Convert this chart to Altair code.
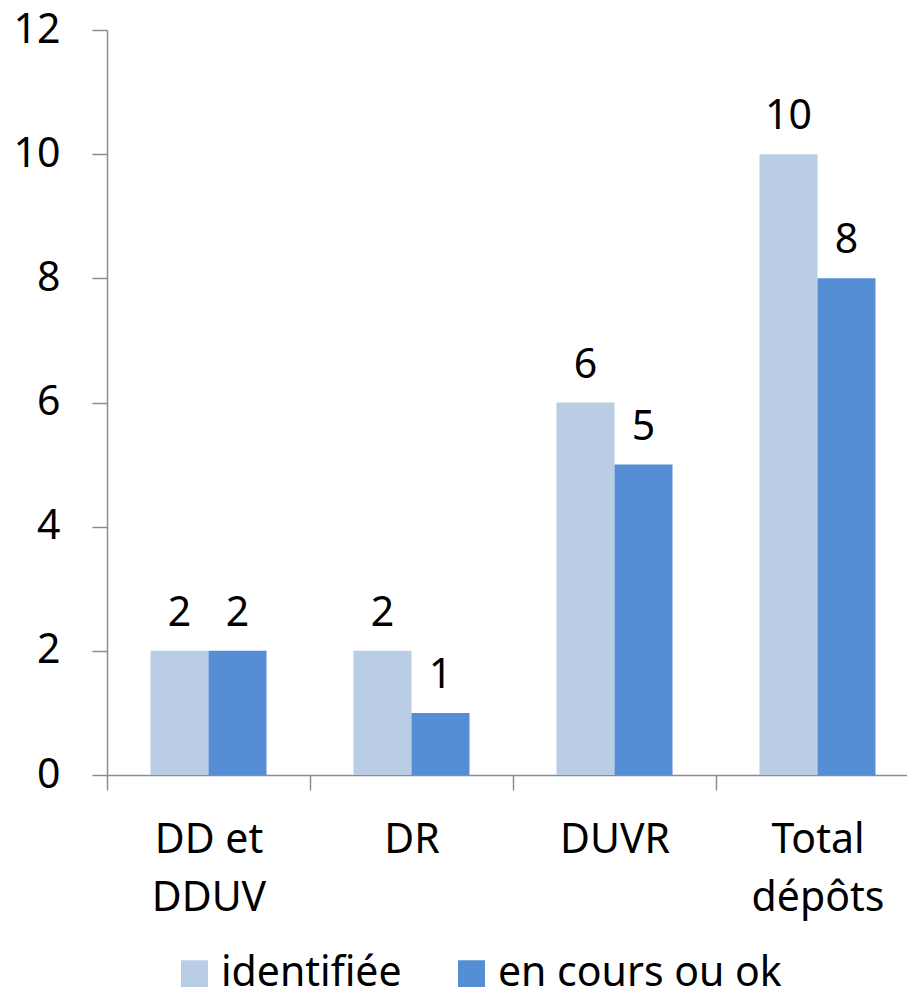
import altair as alt
import pandas as pd

categories = ["DD et DDUV", "DR", "DUVR", "Total dépôts"]
series = ["identifiée", "en cours ou ok"]
identifiee = [2, 2, 6, 10]
en_cours = [2, 1, 5, 8]
y_ticks = [0, 2, 4, 6, 8, 10, 12]
colors = ["#B9CDE5", "#558ED5"]

rows = []
for i, c in enumerate(categories):
    rows.append({"cat": c, "serie": series[0], "val": identifiee[i]})
    rows.append({"cat": c, "serie": series[1], "val": en_cours[i]})
df = pd.DataFrame(rows)

FONT = "Noto Sans"
FS = 41
AXIS_COLOR = "#8C8C8C"

label_expr = (
    "datum.label == 'DD et DDUV' ? ['DD et', 'DDUV'] : "
    "datum.label == 'Total dépôts' ? ['Total', 'dépôts'] : datum.label"
)

x = alt.X(
    "cat:N",
    sort=categories,
    scale=alt.Scale(paddingInner=0, paddingOuter=0, range=[0, 812]),
    axis=alt.Axis(
        title=None,
        labelAngle=0,
        labelExpr=label_expr,
        tickBand="extent",
        tickSize=15,
        tickColor=AXIS_COLOR,
        tickWidth=1.5,
        domainColor=AXIS_COLOR,
        domainWidth=1.5,
        labelFont=FONT,
        labelFontSize=FS,
        labelColor="black",
        labelPadding=30,
        labelBaseline="top",
        labelLineHeight=58,
        grid=False,
    ),
)
xo = alt.XOffset(
    "serie:N", sort=series, scale=alt.Scale(paddingOuter=0.75, paddingInner=0)
)
y = alt.Y(
    "val:Q",
    scale=alt.Scale(domain=[0, 12], nice=False),
    axis=alt.Axis(
        title=None,
        values=y_ticks,
        tickSize=15,
        tickColor=AXIS_COLOR,
        tickWidth=1.5,
        domainColor=AXIS_COLOR,
        domainWidth=1.5,
        labelFont=FONT,
        labelFontSize=FS,
        labelColor="black",
        labelPadding=32,
        grid=False,
    ),
)

bars = alt.Chart(df).mark_bar().encode(
    x=x,
    xOffset=xo,
    y=y,
    color=alt.Color(
        "serie:N",
        sort=series,
        scale=alt.Scale(domain=series, range=colors),
        legend=alt.Legend(
            title=None,
            orient="none",
            direction="horizontal",
            legendX=67,
            legendY=923,
            padding=0,
            symbolType="square",
            symbolSize=729,
            symbolStrokeWidth=0,
            symbolOpacity=1,
            labelFont=FONT,
            labelFontSize=FS,
            labelColor="black",
            labelOffset=6,
            columnPadding=49,
            labelLimit=0,
        ),
    ),
)

texts = alt.Chart(df).mark_text(
    dy=-25, baseline="alphabetic", font=FONT, fontSize=FS, color="black"
).encode(x=x, xOffset=xo, y=y, text="val:Q")

chart = (
    alt.layer(bars, texts)
    .properties(
        width=800,
        height=745,
        autosize=alt.AutoSizeParams(type="none"),
        padding={"left": 99, "top": 22, "right": 0, "bottom": 212},
    )
    .configure_view(stroke=None)
)

chart.save("out.html", embed_options={"renderer": "svg", "actions": False})
